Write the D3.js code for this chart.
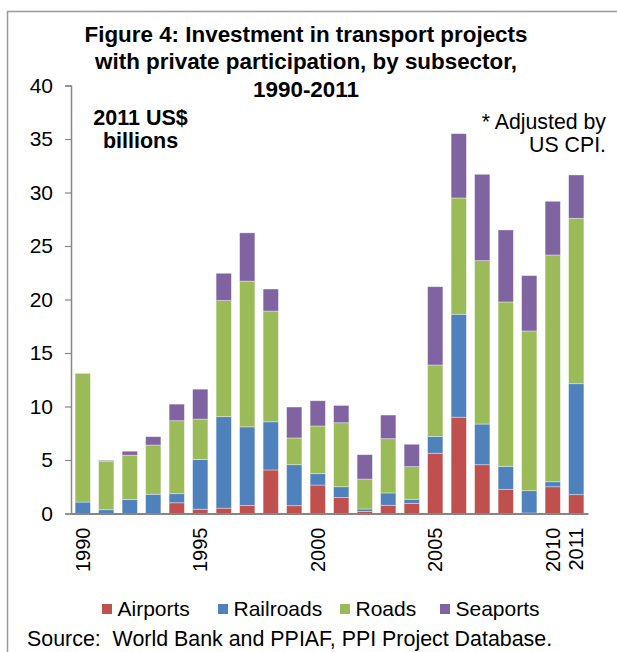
<!DOCTYPE html>
<html>
<head>
<meta charset="utf-8">
<script src="https://cdn.jsdelivr.net/npm/d3@7"></script>
<style>
  body { margin: 0; background: #fff; }
  text { font-family: "Liberation Sans", Arial, sans-serif; fill: #000; }
</style>
</head>
<body>
<div id="chart"></div>
<script>
// data (2011 US$ billions)
var years = [1990, 1991, 1992, 1993, 1994, 1995, 1996, 1997, 1998, 1999, 2000,
             2001, 2002, 2003, 2004, 2005, 2006, 2007, 2008, 2009, 2010, 2011];
var airports  = [0, 0, 0, 0, 1.0, 0.4, 0.5, 0.75, 4.07, 0.73, 2.66,
                 1.5, 0.2, 0.77, 0.95, 5.63, 9.0, 4.56, 2.26, 0.05, 2.5, 1.76];
var railroads = [1.07, 0.35, 1.3, 1.8, 0.85, 4.65, 8.55, 7.35, 4.5, 3.83, 1.06,
                 1.0, 0.22, 1.15, 0.38, 1.58, 9.62, 3.8, 2.15, 2.08, 0.47, 10.37];
var roads     = [12.03, 4.53, 4.15, 4.6, 6.82, 3.77, 10.85, 13.62, 10.35, 2.5, 4.46,
                 5.98, 2.8, 5.07, 3.05, 6.67, 10.87, 15.27, 15.36, 14.93, 21.19, 15.46];
var seaports  = [0, 0.09, 0.37, 0.78, 1.55, 2.8, 2.55, 4.51, 2.06, 2.89, 2.36,
                 1.62, 2.28, 2.21, 2.09, 7.32, 6.01, 8.07, 6.73, 5.17, 5.02, 4.05];
var seriesNames = ["Airports", "Railroads", "Roads", "Seaports"];
var seriesColors = ["#c0504d", "#4f81bd", "#9bbb59", "#8064a2"];
var yTicks = [0, 5, 10, 15, 20, 25, 30, 35, 40];
var xLabels = [1990, 1995, 2000, 2005, 2010, 2011];
var titleLines = ["Figure 4: Investment in transport projects",
                  "with private participation, by subsector,",
                  "1990-2011"];

var width = 617, height = 652;
var svg = d3.select("#chart").append("svg")
  .attr("width", width).attr("height", height);

// frame lines (top and left)
svg.append("path")
  .attr("d", "M7.5," + height + " L7.5,11.5 L" + width + ",11.5")
  .attr("fill", "none").attr("stroke", "#9a9a9a").attr("stroke-width", 1.5);

// title
svg.append("g").selectAll("text")
  .data(titleLines).enter().append("text")
  .attr("x", 306)
  .attr("y", function(d, i) { return 41.5 + i * 27.5; })
  .attr("text-anchor", "middle")
  .attr("font-size", "22.4px").attr("font-weight", "bold")
  .text(function(d) { return d; });

var margin = { left: 71, right: 25, top: 85.5, bottom: 138.5 };
var chartWidth = width - margin.left - margin.right;
var chartHeight = height - margin.top - margin.bottom;

var x = d3.scaleBand()
  .domain(years)
  .range([0, chartWidth - 4])
  .paddingInner(0.35).paddingOuter(0.175);
var y = d3.scaleLinear().domain([0, 40]).range([chartHeight, 0]);

var chartGroup = svg.append("g")
  .attr("transform", "translate(" + margin.left + "," + margin.top + ")");

// stacked bars
var table = years.map(function(yr, i) {
  return { year: yr, Airports: airports[i], Railroads: railroads[i],
           Roads: roads[i], Seaports: seaports[i] };
});
var stacked = d3.stack().keys(seriesNames)(table);

chartGroup.selectAll(".series")
  .data(stacked).enter().append("g")
  .attr("fill", function(d, i) { return seriesColors[i]; })
  .selectAll("rect")
  .data(function(d) { return d; }).enter().append("rect")
  .attr("x", function(d) { return x(d.data.year); })
  .attr("width", x.bandwidth())
  .attr("y", function(d) { return y(d[1]); })
  .attr("height", function(d) { return Math.max(0, y(d[0]) - y(d[1])); })
  .attr("stroke", "#ffffff").attr("stroke-opacity", 0.45).attr("stroke-width", 0.8);

// y axis
var yAxis = chartGroup.append("g")
  .call(d3.axisLeft(y).tickValues(yTicks).tickSize(6).tickPadding(12));
yAxis.select(".domain").attr("stroke", "#868686").attr("stroke-width", 1.5);
yAxis.selectAll(".tick line").attr("stroke", "#868686").attr("stroke-width", 1.2);
yAxis.selectAll(".tick text")
  .attr("font-family", "Liberation Sans, Arial, sans-serif")
  .attr("font-size", "21px").attr("fill", "#000");

// x axis
var xAxis = chartGroup.append("g")
  .attr("transform", "translate(0," + chartHeight + ")")
  .call(d3.axisBottom(x).tickValues(xLabels).tickSize(0).tickSizeOuter(0));
xAxis.select(".domain").attr("stroke", "#868686").attr("stroke-width", 2);
xAxis.selectAll(".tick text")
  .attr("font-family", "Liberation Sans, Arial, sans-serif")
  .attr("font-size", "20px").attr("fill", "#000")
  .attr("transform", "rotate(-90)")
  .attr("text-anchor", "end")
  .attr("x", -14).attr("y", 0).attr("dy", "0.36em");

// unit label
svg.append("g").selectAll("text")
  .data(["2011 US$", "billions"]).enter().append("text")
  .attr("x", 140.5)
  .attr("y", function(d, i) { return 125 + i * 23; })
  .attr("text-anchor", "middle")
  .attr("font-size", "21.5px").attr("font-weight", "bold")
  .text(function(d) { return d; });

// note
svg.append("g").selectAll("text")
  .data(["* Adjusted by", "US CPI."]).enter().append("text")
  .attr("x", 606)
  .attr("y", function(d, i) { return 128.5 + i * 23; })
  .attr("text-anchor", "end")
  .attr("font-size", "21.3px")
  .text(function(d) { return d; });

// legend
var legendX = [102, 218, 340, 440];
var legend = svg.append("g").selectAll("g")
  .data(seriesNames).enter().append("g")
  .attr("transform", function(d, i) { return "translate(" + legendX[i] + ",604)"; });
legend.append("rect")
  .attr("width", 10).attr("height", 10)
  .attr("fill", function(d, i) { return seriesColors[i]; });
legend.append("text")
  .attr("x", 15.5).attr("y", 12)
  .attr("font-size", "21px")
  .text(function(d) { return d; });

// source
svg.append("text")
  .attr("x", 27).attr("y", 646)
  .attr("font-size", "21.4px")
  .attr("xml:space", "preserve")
  .style("white-space", "pre")
  .text("Source:  World Bank and PPIAF, PPI Project Database.");
</script>
</body>
</html>
